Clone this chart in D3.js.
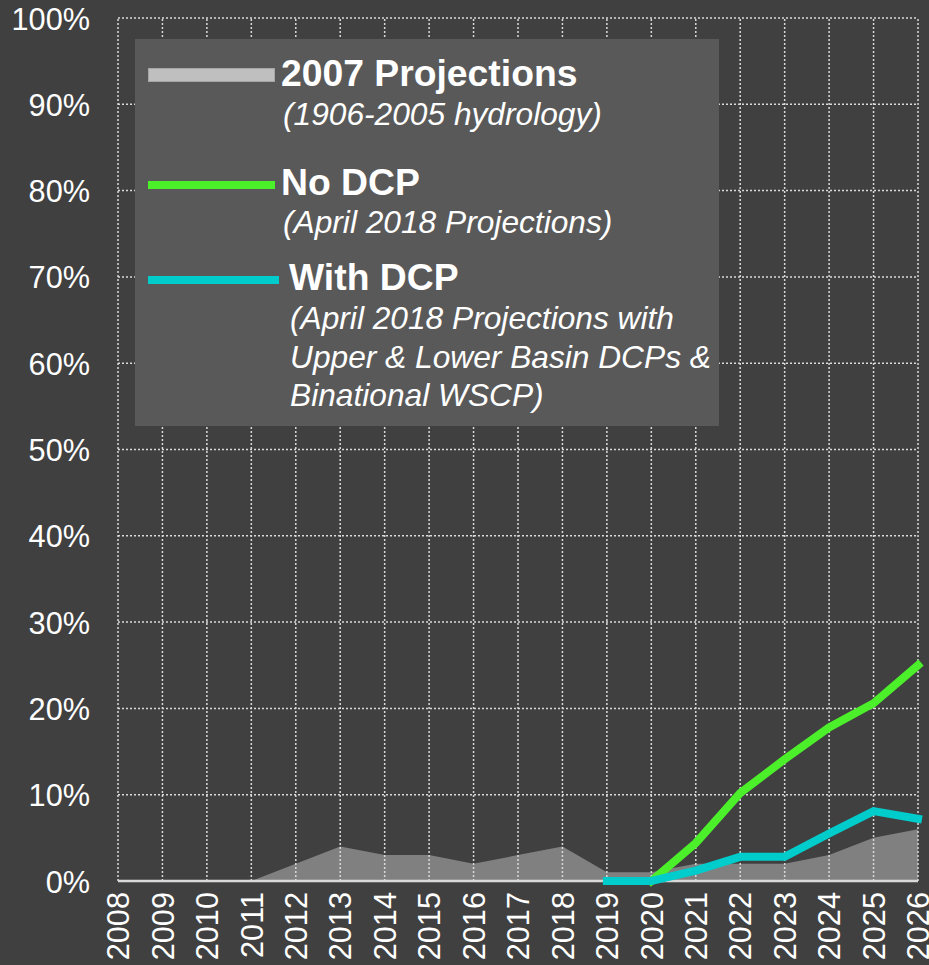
<!DOCTYPE html>
<html>
<head>
<meta charset="utf-8">
<script src="https://cdn.jsdelivr.net/npm/d3@7"></script>
<style>
  body { margin: 0; background: #404040; }
  text { font-family: Arial, "Liberation Sans", sans-serif; fill: #ffffff; }
</style>
</head>
<body>
<script>
let w = 929
let h = 965

// data (percent)
let years = ["2008","2009","2010","2011","2012","2013","2014","2015","2016","2017","2018","2019","2020","2021","2022","2023","2024","2025","2026"]
let proj2007 = [0,0,0,0,2,4,3,3,2,3,4,1,1,2,2,2,3,5,6]
let noDcpYears = ["2020","2021","2022","2023","2024","2025","2026"]
let noDcp = [0,4.4,10.2,14.1,17.8,20.6,25]
let withDcpYears = ["2019","2020","2021","2022","2023","2024","2025","2026"]
let withDcp = [0,0,1.2,2.8,2.8,5.5,8.1,7.2]
let yTicks = [0,10,20,30,40,50,60,70,80,90,100]

let gridColor = "#d9d9d9"

let svg = d3.select("body").append("svg")
  .attr("width", w)
  .attr("height", h)

let x = d3.scalePoint()
  .domain(years)
  .range([118, 918])

let y = d3.scaleLinear()
  .domain([0, 100])
  .range([881, 18])

// 2007 projections area
let area = d3.area()
  .x((d, i) => x(years[i]))
  .y0(y(0))
  .y1(d => y(d))

svg.append("path")
  .datum(proj2007)
  .attr("d", area)
  .attr("fill", "#808080")

// grid
let grid = svg.append("g")
grid.selectAll(".hgrid")
  .data(yTicks.filter(d => d > 0))
  .enter()
  .append("line")
  .attr("x1", x.range()[0])
  .attr("x2", x.range()[1])
  .attr("y1", d => y(d))
  .attr("y2", d => y(d))
  .attr("stroke", gridColor)
  .attr("stroke-width", 1.5)
  .attr("stroke-dasharray", "2,2")

grid.selectAll(".vgrid")
  .data(years)
  .enter()
  .append("line")
  .attr("x1", d => x(d))
  .attr("x2", d => x(d))
  .attr("y1", y(0))
  .attr("y2", y(100))
  .attr("stroke", gridColor)
  .attr("stroke-width", 1.5)
  .attr("stroke-dasharray", "2,2")

// bottom axis line
svg.append("line")
  .attr("x1", x.range()[0])
  .attr("x2", x.range()[1])
  .attr("y1", y(0))
  .attr("y2", y(0))
  .attr("stroke", gridColor)
  .attr("stroke-width", 2.5)

// y labels
let yAxis = svg.append("g")
  .attr("transform", "translate(90,0)")
  .call(d3.axisLeft(y).tickValues(yTicks).tickSize(0).tickPadding(0).tickFormat(d => d + "%"))
yAxis.select(".domain").remove()
yAxis.selectAll("text")
  .style("font-size", "30.7px")
  .attr("fill", "#ffffff")
  .attr("dy", "0.36em")

// x labels
let xAxis = svg.append("g")
  .attr("transform", "translate(0,892)")
  .call(d3.axisBottom(x).tickSize(0).tickPadding(0))
xAxis.select(".domain").remove()
xAxis.selectAll("text")
  .style("font-size", "30.7px")
  .attr("fill", "#ffffff")
  .attr("text-anchor", "end")
  .attr("transform", "rotate(-90)")
  .attr("x", 0)
  .attr("y", 0)
  .attr("dy", "0.35em")

// lines
let lineNo = d3.line()
  .x((d, i) => x(noDcpYears[i]))
  .y(d => y(d))

let lineWith = d3.line()
  .x((d, i) => x(withDcpYears[i]))
  .y(d => y(d))

svg.append("path")
  .datum(noDcp)
  .attr("d", lineNo)
  .attr("fill", "none")
  .attr("stroke", "#4cf02a")
  .attr("stroke-width", 8)
  .attr("stroke-linecap", "square")

svg.append("path")
  .datum(withDcp)
  .attr("d", lineWith)
  .attr("fill", "none")
  .attr("stroke", "#00cccc")
  .attr("stroke-width", 8)
  .attr("stroke-linecap", "square")

// legend
let legend = svg.append("g")

legend.append("rect")
  .attr("x", 135)
  .attr("y", 39)
  .attr("width", 584)
  .attr("height", 387)
  .attr("fill", "#595959")

legend.append("rect")
  .attr("x", 148.5)
  .attr("y", 68.5)
  .attr("width", 126)
  .attr("height", 13)
  .attr("fill", "#bfbfbf")
  .attr("stroke", "#a6a6a6")
  .attr("stroke-width", 1)

legend.append("rect")
  .attr("x", 148)
  .attr("y", 181)
  .attr("width", 127)
  .attr("height", 8)
  .attr("fill", "#4cf02a")

legend.append("rect")
  .attr("x", 148)
  .attr("y", 276)
  .attr("width", 131)
  .attr("height", 8)
  .attr("fill", "#00cccc")

let boldLabels = [
  {t: "2007 Projections", x: 281, y: 86},
  {t: "No DCP", x: 281, y: 195},
  {t: "With DCP", x: 289, y: 290}
]
let italicLabels = [
  {t: "(1906-2005 hydrology)", x: 283, y: 125},
  {t: "(April 2018 Projections)", x: 283, y: 233},
  {t: "(April 2018 Projections with", x: 290, y: 329},
  {t: "Upper & Lower Basin DCPs &", x: 290, y: 368},
  {t: "Binational WSCP)", x: 290, y: 406}
]

legend.selectAll(".bold")
  .data(boldLabels)
  .enter()
  .append("text")
  .attr("x", d => d.x)
  .attr("y", d => d.y)
  .style("font-size", "37.3px")
  .style("font-weight", "bold")
  .text(d => d.t)

legend.selectAll(".ital")
  .data(italicLabels)
  .enter()
  .append("text")
  .attr("x", d => d.x)
  .attr("y", d => d.y)
  .style("font-size", "31.7px")
  .style("font-style", "italic")
  .text(d => d.t)
</script>
</body>
</html>
